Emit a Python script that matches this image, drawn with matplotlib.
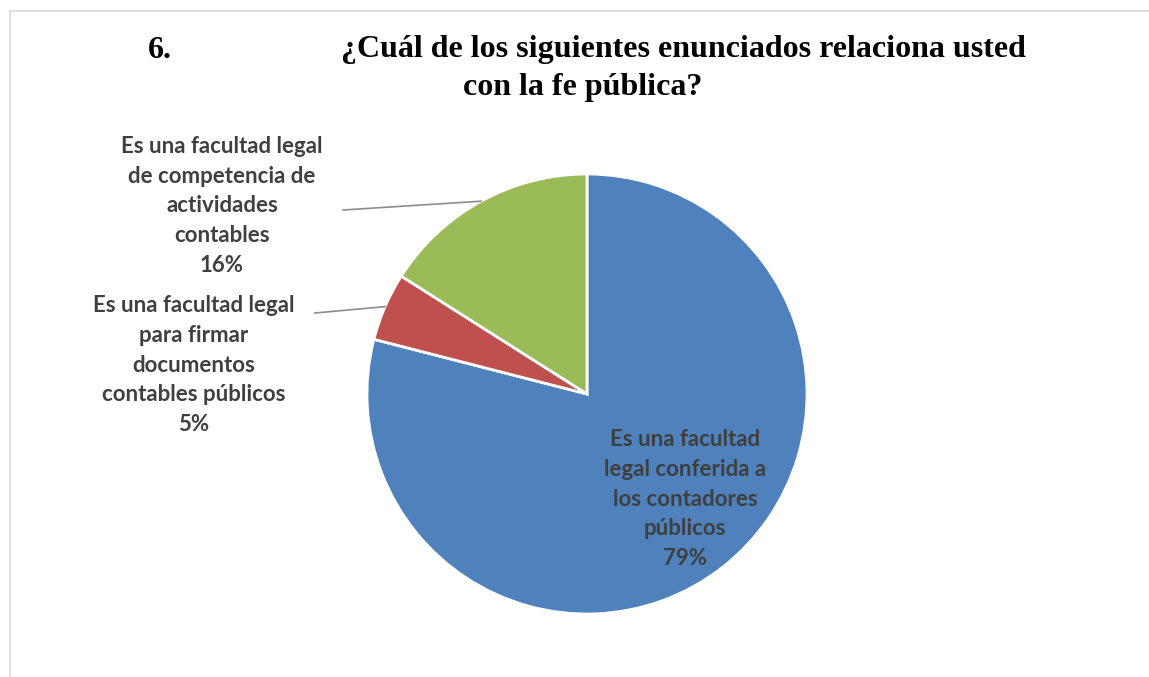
import numpy as np
import matplotlib
matplotlib.use("Agg")
import matplotlib.pyplot as plt

# datos de la pregunta 6
categorias = [
    "Es una facultad\nlegal conferida a\nlos contadores\npúblicos",
    "Es una facultad legal\npara firmar\ndocumentos\ncontables públicos",
    "Es una facultad legal\nde competencia de\nactividades\ncontables",
]
porcentajes = [79, 5, 16]
colores = ["#4F81BD", "#C0504D", "#9BBB59"]

W, H = 1149, 677


def py(y):
    # coordenadas de pantalla (y hacia abajo) -> datos
    return H - y


fig = plt.figure(figsize=(W / 100, H / 100), dpi=100)
ax = fig.add_axes([0, 0, 1, 1])
ax.set_xlim(0, W)
ax.set_ylim(0, H)
ax.set_aspect("equal")
ax.axis("off")

# marco del gráfico
ax.plot([9.5, W], [py(10.5), py(10.5)], color="#d9d9d9", lw=1.2)
ax.plot([9.5, 9.5], [py(10.5), 0], color="#d9d9d9", lw=1.2)

# título
tfont = dict(family="Liberation Serif", weight="bold", fontsize=23, color="black")
ax.text(160, py(50), "6.", ha="center", va="center", **tfont)
ax.text(683, py(50), "¿Cuál de los siguientes enunciados relaciona usted",
        ha="center", va="center", **tfont)
ax.text(583, py(87), "con la fe pública?", ha="center", va="center", **tfont)

cx, cy, r = 587, py(394), 220
wedges, _ = ax.pie(porcentajes, colors=colores, startangle=90, counterclock=False,
                   radius=r, center=(cx, cy), frame=True,
                   wedgeprops=dict(edgecolor="white", linewidth=2))
ax.set_xlim(0, W)
ax.set_ylim(0, H)
ax.axis("off")

lfont = dict(family="Lato", weight="bold", fontsize=16, color="#3f3f3f",
             ha="center", va="center", linespacing=1.52)
etiquetas = [f"{c}\n{p}%" for c, p in zip(categorias, porcentajes)]
pos_etiquetas = [(685, py(499)), (194, py(365)), (222, py(206))]
for txt, (x, y) in zip(etiquetas, pos_etiquetas):
    ax.text(x, y, txt, **lfont)

# líneas guía para las etiquetas exteriores
inicio_lineas = {1: (315, py(313)), 2: (343, py(210))}
for i, (x0, y0) in inicio_lineas.items():
    w = wedges[i]
    ang = np.deg2rad((w.theta1 + w.theta2) / 2)
    x1, y1 = cx + r * np.cos(ang), cy + r * np.sin(ang)
    ax.plot([x0, x1], [y0, y1], color="#8c8c8c", lw=1.2)

fig.savefig("out.png", dpi=100)
